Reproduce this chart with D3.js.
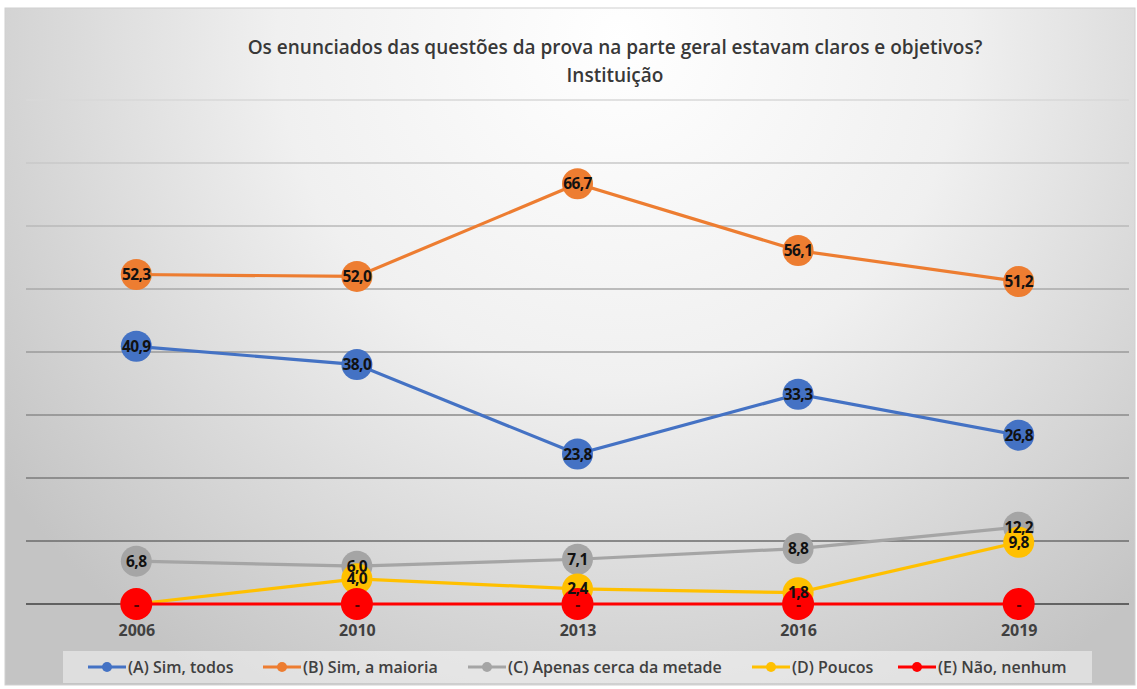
<!DOCTYPE html>
<html>
<head>
<meta charset="utf-8">
<script src="https://cdn.jsdelivr.net/npm/d3@7"></script>
<style>
  body { margin: 0; background: #fff; }
  svg { display: block; font-family: "Open Sans", "Noto Sans", sans-serif; }
</style>
</head>
<body>
<div id="chart"></div>
<script>
const years = ["2006", "2010", "2013", "2016", "2019"];
const serieA = [40.9, 38.0, 23.8, 33.3, 26.8];
const serieB = [52.3, 52.0, 66.7, 56.1, 51.2];
const serieC = [6.8, 6.0, 7.1, 8.8, 12.2];
const serieD = [0, 4.0, 2.4, 1.8, 9.8];
const serieE = [0, 0, 0, 0, 0];
const yTicks = [0, 10, 20, 30, 40, 50, 60, 70, 80];

const series = [
  {name: "(A) Sim, todos", values: serieA, color: "#4472C4", r: 15.5},
  {name: "(B) Sim, a maioria", values: serieB, color: "#ED7D31", r: 15.5},
  {name: "(C) Apenas cerca da metade", values: serieC, color: "#A5A5A5", r: 15.5},
  {name: "(D) Poucos", values: serieD, color: "#FFC000", r: 15.5},
  {name: "(E) Não, nenhum", values: serieE, color: "#FF0000", r: 16}
];

const W = 1137, H = 689;
const svg = d3.select("#chart").append("svg")
  .attr("width", W).attr("height", H);

const defs = svg.append("defs");
const bg = defs.append("radialGradient").attr("id", "bg")
  .attr("gradientUnits", "userSpaceOnUse")
  .attr("cx", 620).attr("cy", 40).attr("r", 760);
bg.append("stop").attr("offset", "0").attr("stop-color", "#ffffff");
bg.append("stop").attr("offset", "0.45").attr("stop-color", "#f0f0f0");
bg.append("stop").attr("offset", "1").attr("stop-color", "#c4c4c4");

const gridGrad = defs.append("linearGradient").attr("id", "grid")
  .attr("gradientUnits", "userSpaceOnUse")
  .attr("x1", 0).attr("y1", 100).attr("x2", 0).attr("y2", 545);
gridGrad.append("stop").attr("offset", "0").attr("stop-color", "#d8d8d8");
gridGrad.append("stop").attr("offset", "1").attr("stop-color", "#6a6a6a");

svg.append("rect")
  .attr("x", 5).attr("y", 8).attr("width", 1130).attr("height", 677)
  .attr("fill", "url(#bg)").attr("stroke", "#d0d0d0");

const x = d3.scalePoint().domain(years).range([26, 1129]).padding(0.5);
const y = d3.scaleLinear().domain([0, 80]).range([604, 100]);

// gridlines
svg.append("g")
  .selectAll("line")
  .data(yTicks.filter(d => d > 0))
  .join("line")
  .attr("x1", 26).attr("x2", 1129)
  .attr("y1", d => y(d)).attr("y2", d => y(d))
  .attr("stroke", "url(#grid)").attr("stroke-width", 1.3);

// eixo x
const xAxis = svg.append("g")
  .attr("transform", `translate(0,${y(0)})`)
  .call(d3.axisBottom(x).tickSize(0).tickPadding(21));
xAxis.select(".domain").attr("d", "M26,0H1129").attr("stroke", "#404040").attr("stroke-width", 1.5);
xAxis.selectAll("text")
  .attr("font-family", "Open Sans, sans-serif")
  .attr("font-size", 16).attr("font-weight", "bold").attr("fill", "#404040");

const line = d3.line()
  .x((d, i) => x(years[i]))
  .y(d => y(d));

series.forEach(s => {
  svg.append("path")
    .datum(s.values)
    .attr("fill", "none")
    .attr("stroke", s.color)
    .attr("stroke-width", 3.2)
    .attr("d", line);
  svg.append("g")
    .selectAll("circle")
    .data(s.values)
    .join("circle")
    .attr("cx", (d, i) => x(years[i]))
    .attr("cy", d => y(d))
    .attr("r", s.r)
    .attr("fill", s.color);
});

const fmt = v => v === 0 ? "-" : d3.format(".1f")(v).replace(".", ",");

series.forEach(s => {
  svg.append("g")
    .selectAll("text")
    .data(s.values)
    .join("text")
    .attr("x", (d, i) => x(years[i]))
    .attr("y", d => y(d))
    .attr("dy", "0.36em")
    .attr("text-anchor", "middle")
    .attr("font-size", 15.5)
    .attr("font-weight", "bold")
    .attr("fill", s.color === "#FF0000" ? "#5a0000" : "#111")
    .style("letter-spacing", "-0.6px")
    .text(fmt);
});

// título
const title = svg.append("text")
  .attr("text-anchor", "middle")
  .attr("fill", "#383838")
  .attr("font-size", 19)
  .attr("font-weight", 600);
title.append("tspan").attr("x", 615).attr("y", 54)
  .text("Os enunciados das questões da prova na parte geral estavam claros e objetivos?");
title.append("tspan").attr("x", 615).attr("y", 82)
  .text("Instituição");

// legenda
svg.append("rect")
  .attr("x", 63).attr("y", 651).attr("width", 1029).attr("height", 32)
  .attr("fill", "#ffffff").attr("fill-opacity", 0.45);

const legendX = [88, 263, 468, 752, 898];
const legend = svg.append("g")
  .selectAll("g")
  .data(series)
  .join("g")
  .attr("transform", (d, i) => `translate(${legendX[i]},667)`);
legend.append("line")
  .attr("x1", 0).attr("x2", 38)
  .attr("stroke", d => d.color).attr("stroke-width", 3.2);
legend.append("circle")
  .attr("cx", 19).attr("r", 5).attr("fill", d => d.color);
legend.append("text")
  .attr("x", 40).attr("dy", "0.36em")
  .attr("font-size", 16).attr("font-weight", 600).attr("fill", "#404040")
  .text(d => d.name);
</script>
</body>
</html>
